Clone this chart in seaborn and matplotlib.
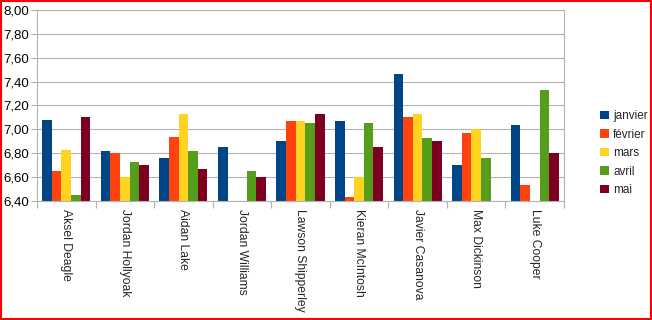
import numpy as np
import pandas as pd
import matplotlib
matplotlib.use("Agg")
import matplotlib.pyplot as plt
import seaborn as sns
from matplotlib.patches import Rectangle
from matplotlib.ticker import FuncFormatter, FixedLocator

names = ["Aksel Deagle", "Jordan Hollyoak", "Aidan Lake", "Jordan Williams",
         "Lawson Shipperley", "Kieran McIntosh", "Javier Casanova",
         "Max Dickinson", "Luke Cooper"]
months = ["janvier", "février", "mars", "avril", "mai"]
janvier = [7.08, 6.82, 6.76, 6.85, 6.90, 7.07, 7.46, 6.70, 7.04]
fevrier = [6.65, 6.80, 6.94, np.nan, 7.07, 6.43, 7.10, 6.97, 6.53]
mars = [6.83, 6.60, 7.13, np.nan, 7.07, 6.60, 7.13, 7.00, np.nan]
avril = [6.45, 6.73, 6.82, 6.65, 7.05, 7.05, 6.93, 6.76, 7.33]
mai = [7.10, 6.70, 6.67, 6.60, 7.13, 6.85, 6.90, np.nan, 6.80]
colors = ["#004586", "#ff420e", "#ffd320", "#579d1c", "#7e0021"]

series = [janvier, fevrier, mars, avril, mai]
rows = []
for m, vals in zip(months, series):
    for n, v in zip(names, vals):
        rows.append({"name": n, "mois": m, "val": v})
df = pd.DataFrame(rows)

sns.set_style("white")
plt.rcParams["font.family"] = ["Liberation Sans", "DejaVu Sans"]

fig = plt.figure(figsize=(6.52, 3.2), dpi=100)
ax = fig.add_axes([37/652, 1-201/320, (564-37)/652, (201-10)/320])

sns.barplot(data=df, x="name", y="val", hue="mois", order=names,
            hue_order=months, palette=colors, saturation=1, width=0.82, ax=ax,
            linewidth=0, errorbar=None, legend=True)

ax.set_ylim(6.4, 8.0)
ax.set_xlim(-0.5, len(names) - 0.5)
ax.set_yticks(np.arange(6.4, 8.001, 0.2))
ax.yaxis.set_major_formatter(FuncFormatter(lambda v, p: f"{v:.2f}".replace(".", ",")))
ax.yaxis.grid(True, color="#b3b3b3", linewidth=0.8)
ax.set_axisbelow(True)
ax.set_xlabel("")
ax.set_ylabel("")
for s in ax.spines.values():
    s.set_color("#b3b3b3")
    s.set_linewidth(0.8)
ax.tick_params(axis="y", labelsize=9.5, colors="#b3b3b3", labelcolor="#000000",
               length=4, width=0.8, direction="out", left=True, pad=2)
ax.set_xticks(range(len(names)))
ax.set_xticklabels(names, rotation=270, fontsize=8.7, va="top", ha="center")
ax.tick_params(axis="x", length=0, pad=6)
ax.xaxis.set_minor_locator(FixedLocator(np.arange(-0.5, len(names), 1.0)))
ax.tick_params(axis="x", which="minor", length=5, width=0.8, color="#b3b3b3",
               bottom=True, direction="out")

leg = ax.legend(loc="center left", bbox_to_anchor=(1.06, 0.25), frameon=False,
                fontsize=8.5, handlelength=0.7, handleheight=0.7,
                handletextpad=0.4, labelspacing=0.55, borderaxespad=0)

fig.patches.append(Rectangle((0.001, 0.002), 0.997, 0.995, transform=fig.transFigure,
                             fill=False, edgecolor="#ff0000", linewidth=1.5))

fig.savefig("out.png", dpi=100)
